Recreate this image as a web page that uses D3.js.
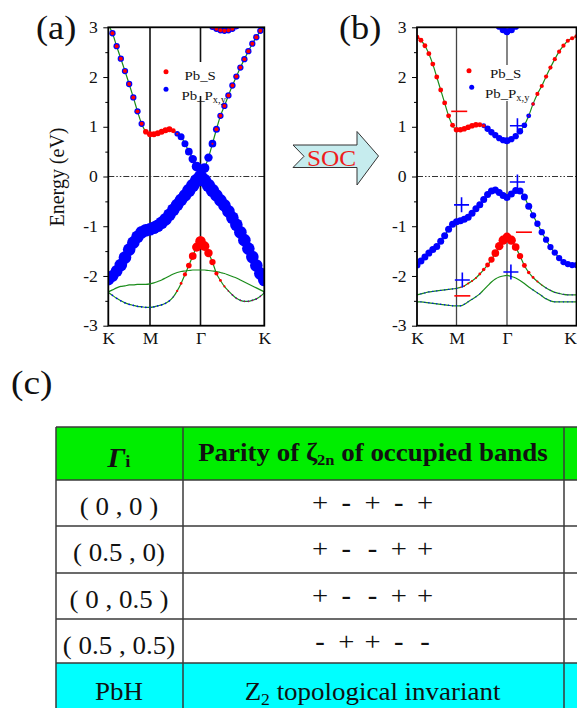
<!DOCTYPE html>
<html>
<head>
<meta charset="utf-8">
<script src="https://cdn.jsdelivr.net/npm/d3@7"></script>
<style>
body { margin: 0; background: #fff; }
svg text { font-family: "Liberation Serif", "Times New Roman", serif; fill: #111; }
</style>
</head>
<body>
<svg id="fig" width="577" height="708"></svg>
<script>
// k path, 40 points: K(0) - M(10) - Γ(23) - K(39)
var kLabels = ["K", "M", "Γ", "K"];
var kNodes = [0, 10, 23, 39];
var yTicks = [-3, -2, -1, 0, 1, 2, 3];
var yMinor = [-2.5, -1.5, -0.5, 0.5, 1.5, 2.5];

// (a) without SOC, energies in eV
var aE1 = [3.05,2.88,2.62,2.37,2.12,1.86,1.59,1.31,1.06,0.9,0.85, 0.85,0.87,0.9,0.93,0.95,0.92,0.86,0.8,0.66,0.5,0.35,0.2,0.0, 0.17,0.38,0.66,0.95,1.22,1.42,1.63,1.83,2.01,2.19,2.36,2.52,2.67,2.8,2.93,3.02];
var aE2 = [-2.07,-2.0,-1.9,-1.78,-1.63,-1.47,-1.33,-1.21,-1.12,-1.08,-1.06, -1.03,-0.99,-0.93,-0.86,-0.77,-0.67,-0.57,-0.47,-0.38,-0.28,-0.18,-0.08,0.0, -0.08,-0.18,-0.28,-0.38,-0.48,-0.58,-0.7,-0.83,-0.97,-1.12,-1.28,-1.45,-1.62,-1.79,-1.95,-2.08];
var aE3 = [-2.33,-2.39,-2.45,-2.5,-2.54,-2.57,-2.59,-2.61,-2.62,-2.63,-2.63, -2.62,-2.6,-2.58,-2.55,-2.5,-2.42,-2.3,-2.15,-1.97,-1.79,-1.6,-1.42,-1.3, -1.4,-1.54,-1.72,-1.95,-2.09,-2.21,-2.3,-2.38,-2.45,-2.49,-2.51,-2.51,-2.49,-2.46,-2.41,-2.34];
var aE4 = [-2.32,-2.28,-2.24,-2.21,-2.2,-2.18,-2.18,-2.17,-2.17,-2.17,-2.16, -2.14,-2.11,-2.08,-2.04,-2.0,-1.96,-1.93,-1.91,-1.9,-1.89,-1.88,-1.88,-1.88, -1.88,-1.89,-1.9,-1.91,-1.93,-1.95,-1.98,-2.01,-2.04,-2.08,-2.12,-2.16,-2.2,-2.24,-2.28,-2.32];
var aE5 = [3.9,3.8,3.7,3.6,3.55,3.5,3.5,3.5,3.5,3.5,3.5, 3.5,3.5,3.5,3.5,3.5,3.5,3.45,3.4,3.35,3.3,3.25,3.2,3.15, 3.1,3.05,3.01,2.97,2.94,2.93,2.94,2.97,3.02,3.08,3.15,3.22,3.3,3.38,3.45,3.5];
// orbital weights (tenths): S = Pb_S (red), P = Pb_Px,y (blue)
var aP1 = [4.5,4.5,4.5,4.5,4.5,4.5,4.5,4.5,4.5,3,2, 1.5,1.5,1.5,1.5,1.5,2,4,5,5,5.5,6,7,8, 7,6,5.5,5,4.5,4.5,4.5,4.5,4.5,4.5,4.5,4.5,4.5,4.5,4.5,4.5];
var aS1 = [2.8,2.8,2.8,2.8,2.8,2.8,2.8,2.8,2.8,4,4.3, 4.2,4.2,4.2,4.2,4.2,3.5,1.5,0,0,0,0,0,0, 0,0,1.5,2.8,2.8,2.8,2.8,2.8,2.8,2.8,2.8,2.8,2.8,2.8,2.8,2.8];
var aP2 = [8.5,8.5,8.5,9,9,9,9,9,9,9,9, 9,9,9,9,9,9,9,9,9,9.5,9.5,9.5,9.5, 9.5,9.5,9.5,9,9,9,9,9,9,9,9,9,9,9,9,9];
var aP3 = [1.2,1.2,1.2,1.2,1.2,1.2,1.2,1.2,1.2,1.2,1.2, 1.2,1.2,1.2,1.2,1.2,1,0.5,0,0,0,0,0,0, 0,0,0,0,0,0.5,1,1.2,1.2,1.2,1.2,1.2,1.2,1.2,1.2,1.2];
var aS3 = [0,0,0,0,0,0,0,0,0,0,0, 0,0,0,0,0,0.6,1.5,2,3,4,5.5,6.5,7.5, 7,6,4.5,3,2,1.5,1,1,0.8,0.8,0.8,0.8,0.8,0.8,0.8,0.8];
var aP5 = 4.5, aS5 = 2.8;

// (b) with SOC
var bE1 = [2.8,2.74,2.63,2.47,2.26,2.0,1.74,1.48,1.22,1.03,0.94, 0.94,0.96,0.99,1.02,1.04,1.04,1.02,0.96,0.89,0.83,0.77,0.73,0.72, 0.75,0.81,0.91,1.03,1.22,1.46,1.66,1.82,2.01,2.19,2.36,2.51,2.63,2.73,2.78,2.82];
var bE2 = [-1.78,-1.7,-1.62,-1.54,-1.47,-1.41,-1.3,-1.19,-1.06,-0.96,-0.91, -0.89,-0.86,-0.82,-0.74,-0.65,-0.57,-0.46,-0.36,-0.29,-0.27,-0.32,-0.38,-0.42, -0.35,-0.28,-0.29,-0.41,-0.6,-0.78,-0.95,-1.12,-1.27,-1.42,-1.53,-1.64,-1.72,-1.76,-1.78,-1.78];
var bE3 = [-2.38,-2.36,-2.34,-2.32,-2.31,-2.3,-2.29,-2.28,-2.27,-2.26,-2.25, -2.23,-2.2,-2.15,-2.1,-2.04,-1.96,-1.87,-1.78,-1.67,-1.54,-1.4,-1.28,-1.22, -1.28,-1.42,-1.6,-1.79,-1.93,-2.03,-2.11,-2.18,-2.24,-2.29,-2.33,-2.35,-2.37,-2.38,-2.38,-2.38];
var bE4 = [-2.52,-2.52,-2.53,-2.54,-2.55,-2.56,-2.57,-2.58,-2.59,-2.6,-2.6, -2.6,-2.57,-2.52,-2.47,-2.42,-2.36,-2.28,-2.2,-2.12,-2.06,-2.02,-2.0,-1.99, -2.01,-2.04,-2.09,-2.15,-2.22,-2.28,-2.34,-2.4,-2.46,-2.5,-2.52,-2.52,-2.52,-2.52,-2.52,-2.52];
var bE5 = [3.9,3.9,3.9,3.9,3.9,3.9,3.9,3.9,3.9,3.9,3.9, 3.8,3.7,3.6,3.5,3.45,3.4,3.33,3.26,3.18,3.1,3.02,2.95,2.91, 2.95,3.02,3.1,3.2,3.3,3.4,3.5,3.6,3.7,3.8,3.9,3.9,3.9,3.9,3.9,3.9];
var bS1 = [3.5,3.5,3.5,3.5,3.5,3.5,3.5,3.5,3.5,3.5,4, 4,4,4,4,4,3.5,2.5,0.5,0,0,0,0,0, 0,0,0,0,1,2.5,3,3,3,3,3,3,3,3,3,3];
var bP1 = [0.5,0.5,0.5,0.5,0.5,0.5,0.5,0.5,0.5,0.5,0.5, 1,1,1,1,1.5,2,3.5,4.5,4.5,4.5,4.5,4.5,5, 4.5,4.5,4.5,4,3.5,2.5,1.5,1,1,1,1,1,1,1,1,1];
var bP2 = [5,5,5,5,5,5,5,5,5,5,5, 5,5,5,5,5,5,5,5,5,5,5,5,5, 5,5,5,5,5,4.5,4.5,4.5,4.5,4.5,4.5,4.5,4.5,4.5,4.5,4.5];
var bP3 = [1,1,1,1,1,1,1,1,1,1,1, 0.5,0.5,0,0,0,0,0,0,0,0,0,0,0, 0,0,0,0,0,0,0,0.5,1,1,1,1,1,1,1,1];
var bS3 = [0,0,0,0,0,0,0,0,0,0,0, 1,1.2,1.5,1.5,1.5,2,2.5,3.5,4.5,5.5,6,6.5,6.5, 6.5,5.5,4.5,3.5,2.5,2,1.5,0.8,0.5,0.5,0.5,0.5,0.5,0.5,0.5,0.5];
var bP4 = [1,1,1,1,1,1,1,1,1,1,1, 1,1,1,1,1,1,0,0,0,0,0,0,0, 0,0,0,0,0,1,1,1,1,1,1,1,1,1,1,1];
var bP5 = 5;

// parity labels in (b): k position, energy, sign
var parityK = [10.7, 25.4, 11.3, 25.4, 26.9, 11.5, 11.5, 23.9];
var parityE = [1.31, 1.02, -0.57, -0.11, -1.12, -2.08, -2.4, -1.92];
var paritySign = ["-", "+", "+", "+", "-", "+", "-", "+"];

// table (c)
var tablePoints = ["( 0 , 0 )", "( 0.5 , 0)", "( 0 , 0.5 )", "( 0.5 , 0.5)"];
var tableParity = [
  ["+", "-", "+", "-", "+"],
  ["+", "-", "-", "+", "+"],
  ["+", "-", "-", "+", "+"],
  ["-", "+", "+", "-", "-"]
];

var svg = d3.select("#fig");
var SX = 1.1;   // lettering in the figure is a little wider than tall
var BLUE = "#0000ff", RED = "#ff0000", GREEN = "#1a8c1a";

function label(g, x, y, str, size) {
  return g.append("text")
    .attr("transform", "translate(" + x + "," + y + ") scale(" + SX + ",1)")
    .attr("font-size", size)
    .text(str);
}

function drawPanel(cfg) {
  var g = svg.append("g");
  var x = d3.scaleLinear().domain(kNodes).range(cfg.xr);
  var y = d3.scaleLinear().domain([-3, 3]).range([cfg.bottom, cfg.top]);
  var r = d3.scaleLinear().domain([0, 10]).range([0, 7]);
  var x0 = x(0), x1 = x(39), y0 = y(3), y1 = y(-3);

  g.append("clipPath").attr("id", "clip" + cfg.id).append("rect")
    .attr("x", x0).attr("y", y0).attr("width", x1 - x0).attr("height", y1 - y0);

  g.selectAll(".sym").data(kNodes.slice(1, 3)).enter().append("line")
    .attr("x1", d => x(d)).attr("x2", d => x(d))
    .attr("y1", y0).attr("y2", y1)
    .attr("stroke", cfg.symColor).attr("stroke-width", cfg.symWidth);

  g.append("line")
    .attr("x1", x0).attr("x2", x1).attr("y1", y(0)).attr("y2", y(0))
    .attr("stroke", "#333").attr("stroke-width", 1)
    .attr("stroke-dasharray", "6,2,1.5,2,1.5,2");

  // white patch behind legend hides the Γ line
  g.append("rect").attr("x", cfg.legBox[0]).attr("y", cfg.legBox[1])
    .attr("width", cfg.legBox[2]).attr("height", cfg.legBox[3]).attr("fill", "#fff");

  var plot = g.append("g").attr("clip-path", "url(#clip" + cfg.id + ")");
  var line = d3.line().x((d, i) => x(i)).y(d => y(d)).curve(d3.curveMonotoneX);

  plot.selectAll(".band").data(cfg.bands).enter().append("path")
    .attr("d", d => line(d.E))
    .attr("fill", "none").attr("stroke", GREEN).attr("stroke-width", 1.2);

  function pts(key) {
    var out = [];
    cfg.bands.forEach(function(b) {
      if (b[key] == null) return;
      b.E.forEach(function(e, i) {
        var w = Array.isArray(b[key]) ? b[key][i] : b[key];
        if (w > 0) out.push({ k: i, E: e, w: w });
      });
    });
    return out;
  }
  plot.selectAll(".pdot").data(pts("p")).enter().append("circle")
    .attr("cx", d => x(d.k)).attr("cy", d => y(d.E)).attr("r", d => r(d.w))
    .attr("fill", BLUE);
  plot.selectAll(".sdot").data(pts("s")).enter().append("circle")
    .attr("cx", d => x(d.k)).attr("cy", d => y(d.E)).attr("r", d => r(d.w))
    .attr("fill", RED);

  if (cfg.marks) {
    var m = cfg.marks.k.map((k, i) => ({ k: k, E: cfg.marks.E[i], s: cfg.marks.sign[i] }));
    g.selectAll(".mark").data(m).enter().append("path")
      .attr("d", function(d) {
        var cx = x(d.k), cy = y(d.E);
        return d.s == "+"
          ? "M" + (cx - 7.5) + "," + cy + "H" + (cx + 7.5) + "M" + cx + "," + (cy - 7.5) + "V" + (cy + 7.5)
          : "M" + (cx - 8) + "," + cy + "H" + (cx + 8);
      })
      .attr("stroke", d => d.s == "+" ? BLUE : RED).attr("stroke-width", 1.6);
  }

  // legend
  var lg = cfg.leg;
  g.append("circle").attr("cx", lg.s[0]).attr("cy", lg.s[1]).attr("r", 2.5).attr("fill", RED);
  g.append("circle").attr("cx", lg.p[0]).attr("cy", lg.p[1]).attr("r", 2.5).attr("fill", BLUE);
  label(g, lg.st[0], lg.st[1], "Pb_S", 13.5);
  var pt = label(g, lg.pt[0], lg.pt[1], "Pb_P", 13.5);
  pt.append("tspan").attr("font-size", 9.5).attr("dy", 3).text("x,y");

  g.append("rect").attr("x", x0).attr("y", y0).attr("width", x1 - x0).attr("height", y1 - y0)
    .attr("fill", "none").attr("stroke", "#000").attr("stroke-width", 1.8);

  var ax = g.append("g").attr("transform", "translate(" + x0 + ",0)")
    .call(d3.axisLeft(y).tickValues(yTicks).tickSize(5).tickPadding(4.5).tickFormat(d => String(d)));
  ax.select(".domain").remove();
  ax.selectAll("text").attr("font-size", 16).attr("font-family", null)
    .attr("transform", "scale(" + SX + ",1)");
  var mx = g.append("g").attr("transform", "translate(" + x0 + ",0)")
    .call(d3.axisLeft(y).tickValues(yMinor).tickSize(3).tickFormat(""));
  mx.select(".domain").remove();

  var bx = g.append("g").attr("transform", "translate(0," + y1 + ")")
    .call(d3.axisBottom(x).tickValues(kNodes).tickSize(0).tickPadding(7).tickFormat((d, i) => kLabels[i]));
  bx.select(".domain").remove();
  bx.selectAll("text").attr("font-size", 16).attr("font-family", null)
    .attr("transform", "scale(" + SX + ",1)")
    // keep the last K inside the page edge
    .attr("text-anchor", (d, i) => cfg.lastEnd && i == 3 ? "end" : "middle");

  label(g, cfg.tag[0], cfg.tag[1], cfg.tag[2], 33);
}

drawPanel({
  id: "a", xr: [108.3, 150, 200.5, 264.3], top: 27.3, bottom: 325.7,
  symColor: "#111", symWidth: 1.6,
  legBox: [186, 62, 28, 34],
  leg: { s: [166, 71.7], p: [166, 89.3], st: [184.5, 79.5], pt: [181.5, 100] },
  tag: [36, 39, "(a)"],
  bands: [
    { E: aE4 },
    { E: aE5, p: aP5, s: aS5 },
    { E: aE3, p: aP3, s: aS3 },
    { E: aE2, p: aP2 },
    { E: aE1, p: aP1, s: aS1 }
  ]
});

drawPanel({
  id: "b", xr: [417, 456.5, 507, 576.5], top: 27.3, bottom: 325.7,
  symColor: "#444", symWidth: 1.3, lastEnd: true,
  legBox: [493, 65, 28, 36],
  leg: { s: [469, 70.7], p: [471.7, 87.3], st: [490, 78], pt: [485, 97.5] },
  tag: [339, 39, "(b)"],
  marks: { k: parityK, E: parityE, sign: paritySign },
  bands: [
    { E: bE4, p: bP4 },
    { E: bE5, p: bP5 },
    { E: bE3, p: bP3, s: bS3 },
    { E: bE2, p: bP2 },
    { E: bE1, p: bP1, s: bS1 }
  ]
});

// Energy axis title
svg.append("text")
  .attr("transform", "translate(63.5,177) scale(" + SX + ",1) rotate(-90)")
  .attr("text-anchor", "middle").attr("font-size", 20)
  .text("Energy (eV)");

// SOC arrow
var arrow = [[293,145],[357,145],[357,131.5],[378.5,156],[357,185],[357,167.5],[293,167.5],[304,156.3]];
svg.append("path").attr("d", d3.line()(arrow) + "Z")
  .attr("fill", "#c6ecee").attr("stroke", "#333").attr("stroke-width", 1);
label(svg, 331.5, 166, "SOC", 23).attr("text-anchor", "middle").style("fill", "#ee1c1c");

// (c) table
label(svg, 11, 394, "(c)", 34);
var colX = [56, 183, 564, 640];
var rowY = [427, 480, 526, 573, 619, 663, 740];
var tg = svg.append("g");
tg.selectAll(".row").data(d3.range(rowY.length - 1)).enter().append("rect")
  .attr("x", colX[0]).attr("y", d => rowY[d])
  .attr("width", colX[3] - colX[0]).attr("height", d => rowY[d + 1] - rowY[d])
  .attr("fill", d => d == 0 ? "#00ee00" : d == 5 ? "#00ffff" : "#fff");
tg.selectAll(".hl").data(rowY).enter().append("line")
  .attr("x1", colX[0]).attr("x2", colX[3]).attr("y1", d => d).attr("y2", d => d)
  .attr("stroke", "#3a3a3a").attr("stroke-width", 1.5);
tg.selectAll(".vl").data(colX).enter().append("line")
  .attr("x1", d => d).attr("x2", d => d).attr("y1", rowY[0]).attr("y2", rowY[6])
  .attr("stroke", "#3a3a3a").attr("stroke-width", 1.5);

var c1 = 119, c2 = 373;
var h1 = label(tg, c1, 466.7, "", 27).attr("text-anchor", "middle").attr("font-weight", "bold");
h1.append("tspan").attr("font-style", "italic").text("Γ");
h1.append("tspan").attr("font-size", 17).text("i");
var h2 = label(tg, c2, 461, "Parity of ζ", 24.5).attr("text-anchor", "middle").attr("font-weight", "bold");
h2.append("tspan").attr("font-size", 15).attr("dy", 4).text("2n");
h2.append("tspan").attr("dy", -4).text(" of occupied bands");

var signX = d3.scalePoint().domain([0, 1, 2, 3, 4]).range([320, 425]);
tablePoints.forEach(function(p, i) {
  label(tg, c1, rowY[i + 1] + 35, p, 24.5).attr("text-anchor", "middle");
  tableParity[i].forEach(function(s, j) {
    label(tg, signX(j), rowY[i + 1] + 31, s, 26)
      .attr("text-anchor", "middle")
      .attr("font-weight", s == "-" ? "bold" : "normal");
  });
});

label(tg, c1, 700, "PbH", 24.5).attr("text-anchor", "middle");
var z2 = label(tg, 372.5, 700, "Z", 24.5).attr("text-anchor", "middle");
z2.append("tspan").attr("font-size", 16).attr("dy", 5).text("2");
z2.append("tspan").attr("dy", -5).text(" topological invariant");
</script>
</body>
</html>
